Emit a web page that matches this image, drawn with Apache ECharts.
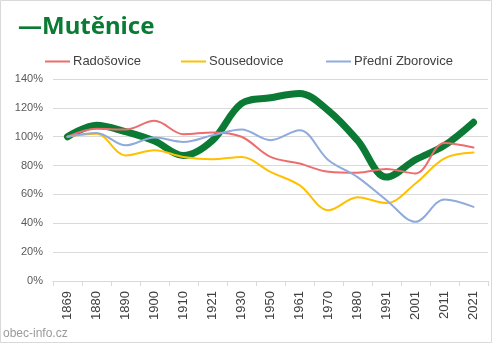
<!DOCTYPE html>
<html><head><meta charset="utf-8">
<script src="https://cdn.jsdelivr.net/npm/echarts@6/dist/echarts.min.js"></script>
<style>html,body{margin:0;padding:0;background:#fff}#c{width:492px;height:343px}</style>
</head><body><div id="c"></div>
<script>
const categories = ['1869','1880','1890','1900','1910','1921','1930','1950','1961','1970','1980','1991','2001','2011','2021'];
const mutenice = [100,108,103.5,97,87,97.5,123,127,130,118,97.5,72,84,94,110];
const radosovice = [100,105.5,105,111,101.7,103,100,86,81.4,75.7,75,77.7,74.5,95.7,92.5];
const sousedovice = [100,102,87,90.6,86,84.4,86,75.6,66.4,49,58,54,67.6,85,89];
const predniZborovice = [100,102.6,94,99.4,96.4,101,105,97.6,104.5,83.7,72,56,41,56.5,51.4];
const yTicks = [0,20,40,60,80,100,120,140];

const chart = echarts.init(document.getElementById('c'));
const font = 'Liberation Sans, Arial, sans-serif';
function s(name, data, color, width, z){
  return {name, type:'line', data, smooth:0.35, symbol:'none', z,
    lineStyle:{color, width, cap:'round', join:'round'}, itemStyle:{color}};
}
function lg(name, left){
  return {top:55, left, padding:0, itemWidth:25, itemHeight:2, icon:'rect', data:[name],
    textStyle:{color:'#404040', fontSize:13, fontFamily:font, padding:[0,0,0,-2]}};
}
chart.setOption({
  animation:false,
  title:[{text:'—Mutěnice', left:18, top:15, padding:0, textStyle:{color:'#0a7a34', fontSize:24, fontWeight:'bold', fontFamily:'Noto Sans, sans-serif'}},
         {text:'obec-info.cz', left:3, top:328, padding:0, textStyle:{color:'#9a9a9a', fontSize:12, fontWeight:'normal', fontFamily:font}}],
  graphic:[{type:'rect', shape:{x:0.5,y:0.5,width:491,height:342}, style:{fill:'none', stroke:'#d9d9d9', lineWidth:1}}],
  legend:[lg('Radošovice',45), lg('Sousedovice',181), lg('Přední Zborovice',326)],
  grid:{left:53, right:4, top:79, bottom:62},
  xAxis:{type:'category', data:categories, boundaryGap:true,
    axisLine:{lineStyle:{color:'#d9d9d9'}},
    axisTick:{show:true, length:5, lineStyle:{color:'#d9d9d9'}},
    axisLabel:{rotate:90, color:'#404040', fontSize:13, fontFamily:font, margin:10}},
  yAxis:{type:'value', min:0, max:140, interval:20,
    axisLabel:{formatter:v=>v+'%', color:'#595959', fontSize:11, fontFamily:font, margin:10},
    splitLine:{lineStyle:{color:'#d9d9d9'}}, axisLine:{show:false}, axisTick:{show:false}},
  series:[
    s('Radošovice', radosovice, '#ec6d6d', 2, 3),
    s('Sousedovice', sousedovice, '#ffc000', 2, 3),
    s('Přední Zborovice', predniZborovice, '#8faadc', 2, 4),
    Object.assign(s('Mutěnice', mutenice, '#0a7a34', 7, 2), {legendHoverLink:false})
  ]
});
</script></body></html>
